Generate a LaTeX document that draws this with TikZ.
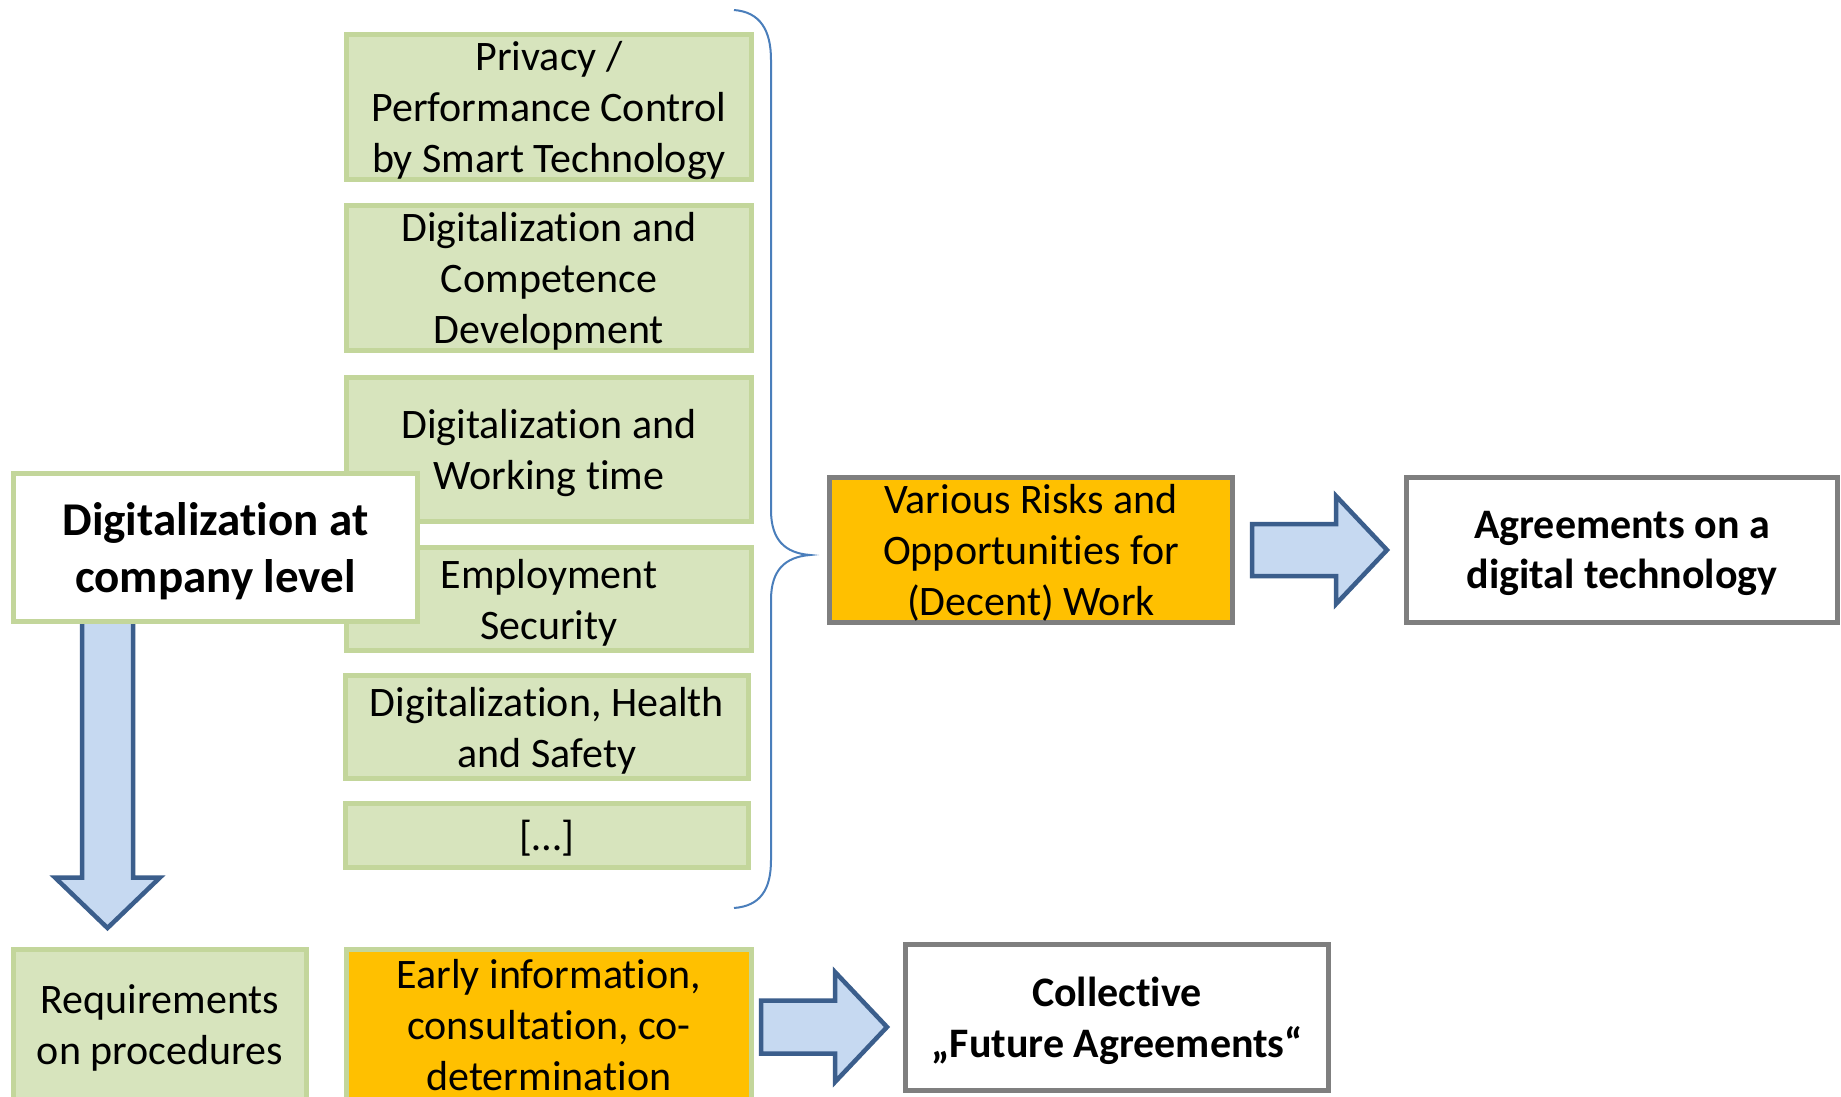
\documentclass[tikz,border=0pt]{standalone}
\usepackage{fontspec}
\setmainfont{Carlito}[Ligatures={NoCommon}]
\usetikzlibrary{backgrounds}
\definecolor{gfill}{HTML}{D7E4BD}
\definecolor{gline}{HTML}{C3D69B}
\definecolor{ofill}{HTML}{FFC000}
\definecolor{gray5}{HTML}{7F7F7F}
\definecolor{afill}{HTML}{C6D9F1}
\definecolor{aline}{HTML}{3B5E8C}
\definecolor{brc}{HTML}{4A7EBB}
\tikzset{
  box/.style={rectangle, inner sep=0pt, outer sep=0pt, line width=5pt, align=center,
    text depth=0pt, font=\fontsize{42}{51}\selectfont},
  greenbox/.style={box, draw=gline, fill=gfill},
  orangegray/.style={box, draw=gray5, fill=ofill},
  orangegreen/.style={box, draw=gline, fill=ofill},
  whitegray/.style={box, draw=gray5, fill=white, font=\fontsize{42}{50.5}\selectfont\bfseries},
  mainbox/.style={box, draw=gline, fill=white, font=\fontsize{47}{57.5}\selectfont\bfseries},
  barrow/.style={draw=aline, fill=afill, line width=4.5pt, line join=miter},
  bracestyle/.style={draw=brc, line width=2pt}
}
\begin{document}
\begin{tikzpicture}[x=1pt,y=-1pt]
\useasboundingbox (0,0) rectangle (1841,1097);
\clip (0,0) rectangle (1841,1097);

% topic boxes
\node[greenbox, minimum width=405, minimum height=145] (b1) at (549,107)
  {Privacy /\\Performance Control\\by Smart Technology};
\node[greenbox, minimum width=405, minimum height=145] (b2) at (549,278)
  {Digitalization and\\Competence\\Development};
\node[greenbox, minimum width=405, minimum height=144] (b3) at (549,449.5)
  {Digitalization and\\Working time};
\node[greenbox, minimum width=405, minimum height=103] (b4) at (549,599)
  {Employment\\Security};
\node[greenbox, minimum width=403, minimum height=103] (b5) at (547,727)
  {Digitalization, Health\\and Safety};
\node[greenbox, minimum width=403, minimum height=64] (b6) at (547,835.5)
  {[\dots]};

% main box
\node[mainbox, minimum width=404, minimum height=148] (main) at (215.5,547.5)
  {Digitalization at\\company level};

% bottom row
\node[greenbox, minimum width=293, minimum height=150] (req) at (160,1024.5)
  {Requirements\\on procedures};
\node[orangegreen, minimum width=405, minimum height=150] (early) at (549,1024.5)
  {Early information,\\consultation, co-\\determination};
\node[whitegray, minimum width=423, minimum height=146] (coll) at (1117,1017.5)
  {Collective\\„Future Agreements“};

% right row
\node[orangegray, minimum width=403, minimum height=145] (risks) at (1031,550)
  {Various Risks and\\Opportunities for\\(Decent) Work};
\node[whitegray, minimum width=431, minimum height=145] (agree) at (1622,550)
  {Agreements on a\\digital technology};

% brace
\draw[bracestyle] (734,10) .. controls (760,12) and (771,30) .. (771,60)
  -- (771,510) .. controls (771,540) and (785,553) .. (810,555)
  .. controls (785,557) and (771,570) .. (771,600)
  -- (771,860) .. controls (771,890) and (760,906) .. (734,908);

% background and down arrow (behind main box)
\begin{scope}[on background layer]
  \fill[white] (0,0) rectangle (1841,1097);
  \begin{scope}[shift={(main.south)}]
    \draw[barrow] (-133.5,-4) -- (-82.5,-4) -- (-82.5,256) -- (-55.5,256)
      -- (-108,306.5) -- (-160.5,256) -- (-133.5,256) -- cycle;
  \end{scope}
\end{scope}

% right arrow
\begin{scope}[shift={(risks.east)}]
  \draw[barrow] (19.5,-26) -- (103.5,-26) -- (103.5,-54) -- (154.5,0)
    -- (103.5,54) -- (103.5,26) -- (19.5,26) -- cycle;
\end{scope}

% bottom arrow
\begin{scope}[shift={(early.east)}]
  \draw[barrow] (9.5,-24) -- (83.5,-24) -- (83.5,-52.5) -- (135.5,2.5)
    -- (83.5,57.5) -- (83.5,29) -- (9.5,29) -- cycle;
\end{scope}
\end{tikzpicture}
\end{document}
